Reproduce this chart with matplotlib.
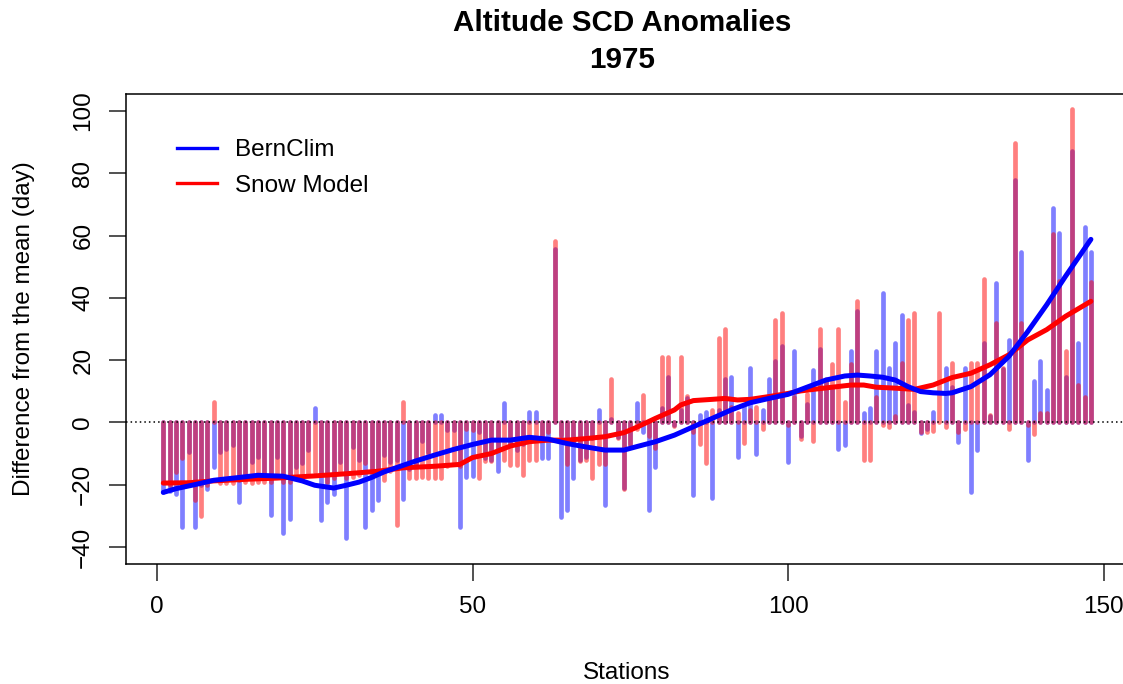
import numpy as np
import matplotlib
matplotlib.use("Agg")
from matplotlib import pyplot as plt

plt.rcParams['font.family'] = ['Liberation Sans', 'DejaVu Sans']

# station anomalies (days from the mean), stations 1..148
bernclim = [
    -22.5, -22, -23, -33.5, -9.5, -33.5, -20, -21.5, -14.3, -9.5,
    -8.4, -7.3, -25.6, -16.5, -12.7, -11, -17.5, -29.6, -11, -35.6,
    -31, -14.3, -13, -9, 4.5, -31.5, -25.6, -23, -12.7, -37,
    -8, -12, -33.5, -28.3, -25, -10.5, -12.7, -12, -24.5, -15,
    -14, -6, -9.5, 2.4, 2.4, -2.5, -2.5, -33.5, -17.5, -17.3,
    -3, -11.5, -12, -15.5, 6.3, -7, -9, -7, 3.4, 3.4,
    -11.4, -11.4, 55.6, -30.4, -28.3, -18, -12, -11, -5, 4,
    -26.7, 1, -4.6, -21, -7, 6.3, -3, -28, -14.2, 4.6,
    14.6, -1, 4, 7.8, -23.3, 2.5, 3.3, -24.4, 4, 13.8,
    14.6, -11, 5, 17.5, -10, 4, 13.8, 19.7, 24.5, -12.6,
    22.8, -4.5, 6, 16.7, 23.5, 13, 11.5, -8.4, -7.3, 22.8,
    35.7, 3.1, 4.5, 22.8, 41.6, 17.4, 25.5, 34.6, 5.6, 3.4,
    -3.3, -2, 3.4, 0, 17.4, 11.5, -6.2, 17.4, -22.4, -9,
    25.5, 2, 44.8, 17, 26.5, 78, 54.7, -12, 13.3, 19.6,
    10.4, 69, 61, 14.7, 87.3, 25.5, 62.9, 54.7,
]
snow_model = [
    -19, -20, -16, -11.5, -19.5, -25, -30, -20, 6.7, -19.5,
    -19.5, -19.5, -18.5, -19, -19.5, -19, -19, -19, -17.5, -19,
    -19, -18, -18, -17, -16, -16, -19, -18, -16, -18,
    -17.5, -17, -13, -16, -16, -18.6, -15.5, -33, 6.7, -18,
    -18, -17.5, -18, -18, -18, -14, -13, -14, -2, -2.5,
    -18, -12.5, -12.5, -9, -12, -13.6, -13.6, -17, -12, -12,
    -5.7, -3, 58.3, -4, -13.4, -7, -12.5, -12, -18, -13.4,
    -13.4, 13.9, -5, -21.3, -7.5, -2, 8.9, -4.5, -8.3, 21,
    21, -1.2, 21, 8.5, -3, -7, -13, 4, 27, 30,
    5, 3, -6.7, 4, 5, -2, 8.4, 33, 35.3, -1,
    8, -5.5, 9.1, -6, 30, 14, 18.8, 30, 6.7, 18.8,
    39, -12, -12, 8, -1, -1.6, 2, 19, 33, 35.2,
    -3, -3, -2.8, 35.2, -1.6, 19, -3, -2, 19, 19,
    46, 2.5, 32, 17.5, -2, 89.7, 32, -1, -3.8, 3,
    3, 60.4, 45.4, 22.8, 100.8, 12, 8, 45,
]
stations = np.arange(1, len(bernclim) + 1)

# smoothed trends
bern_trend_x = [1, 3, 6, 9, 13, 16, 20, 23, 25, 28, 30, 32, 34, 36, 38, 41, 44, 47, 50,
                53, 56, 59, 62, 65, 68, 71, 74, 76, 79, 82, 85, 88, 91, 94, 97, 100,
                103, 106, 109, 111, 113, 115, 117, 119, 121, 123, 125, 126, 129, 132,
                135, 138, 141, 144, 146, 148]
bern_trend_y = [-22.5, -21.3, -20, -18.6, -17.7, -17, -17.3, -18.8, -20.2, -21.1, -20.2,
                -19.2, -17.7, -15.9, -14.5, -12.4, -10.5, -8.7, -7.1, -5.7, -5.7, -4.8,
                -5.4, -6.8, -7.9, -8.9, -8.9, -7.8, -6.2, -4.1, -1.4, 1.3, 4.0, 6.3, 7.7,
                9.0, 11.3, 13.6, 14.9, 15.2, 14.9, 14.5, 13.6, 11.5, 9.9, 9.5, 9.3, 9.5,
                11.5, 15.3, 21.2, 29.2, 37.8, 47, 52.9, 58.8]
snow_trend_x = [1, 5, 9, 14, 19, 25, 30, 35, 39, 44, 48, 50, 53, 56, 59, 62, 65, 68, 71,
                74, 76, 79, 82, 83, 85, 88, 90, 92, 94, 97, 100, 102, 104, 107, 110, 112,
                114, 117, 120, 123, 126, 129, 132, 135, 138, 141, 144, 148]
snow_trend_y = [-19.5, -19.4, -18.8, -18.3, -17.9, -17.2, -16.5, -15.7, -14.6, -14.1,
                -13.5, -11.3, -10, -7.6, -6.2, -5.7, -5.7, -5.2, -4.6, -3.3, -1.6, 1.3,
                4.0, 5.6, 7.0, 7.4, 7.7, 7.2, 7.4, 8.3, 9.3, 10.1, 10.6, 11.3, 12, 12,
                11.3, 11, 10.6, 12, 14.4, 15.8, 18.5, 21.7, 26.5, 29.8, 34.1, 38.9]

W, H = 1123, 684
fig = plt.figure(figsize=(W / 100, H / 100), dpi=100)
ax = fig.add_axes([126.2 / W, (H - 564) / H, 1001.8 / W, 470 / H])

ax.vlines(stations, 0, bernclim, colors=(0, 0, 1, 0.5), lw=3.4, capstyle='round')
ax.vlines(stations, 0, snow_model, colors=(1, 0, 0, 0.5), lw=3.4, capstyle='round')
ax.axhline(0, color='black', lw=1.1, ls=(0, (1, 2)))
ax.plot(snow_trend_x, snow_trend_y, color='red', lw=3.6, solid_capstyle='round')
ax.plot(bern_trend_x, bern_trend_y, color='blue', lw=3.6, solid_capstyle='round')

ax.set_xlim(-4.88, 153.88)
ax.set_ylim(-45.5, 105.5)
ax.set_xticks([0, 50, 100, 150])
ax.set_yticks([-40, -20, 0, 20, 40, 60, 80, 100])
ax.tick_params(axis='both', length=12, width=1.1, labelsize=17.5, color='#222222')
ax.tick_params(axis='x', pad=11)
ax.tick_params(axis='y', pad=11, labelrotation=90)
for lab in ax.get_yticklabels():
    lab.set_va('center')
for sp in ax.spines.values():
    sp.set_linewidth(1.1)

leg_handles = [plt.Line2D([], [], color='blue', lw=2.4),
               plt.Line2D([], [], color='red', lw=2.4)]
ax.legend(leg_handles, ['BernClim', 'Snow Model'], loc='upper left',
          bbox_to_anchor=(0.0507, 0.904), frameon=False, fontsize=17.5,
          borderpad=0, borderaxespad=0, handlelength=1.63, handletextpad=0.75,
          labelspacing=0.55)

fig.text(622 / W, 1 - 31 / H, 'Altitude SCD Anomalies', ha='center', va='baseline',
         fontsize=21.3, fontweight='bold')
fig.text(622 / W, 1 - 68 / H, '1975', ha='center', va='baseline',
         fontsize=21.3, fontweight='bold')
fig.text(627 / W, 1 - 679 / H, 'Stations', ha='center', va='baseline', fontsize=17.5)
fig.text(24 / W, 1 - 329 / H, 'Difference from the mean (day)', ha='center', va='center',
         rotation=90, fontsize=17.5)

fig.savefig('out.png', dpi=100)
